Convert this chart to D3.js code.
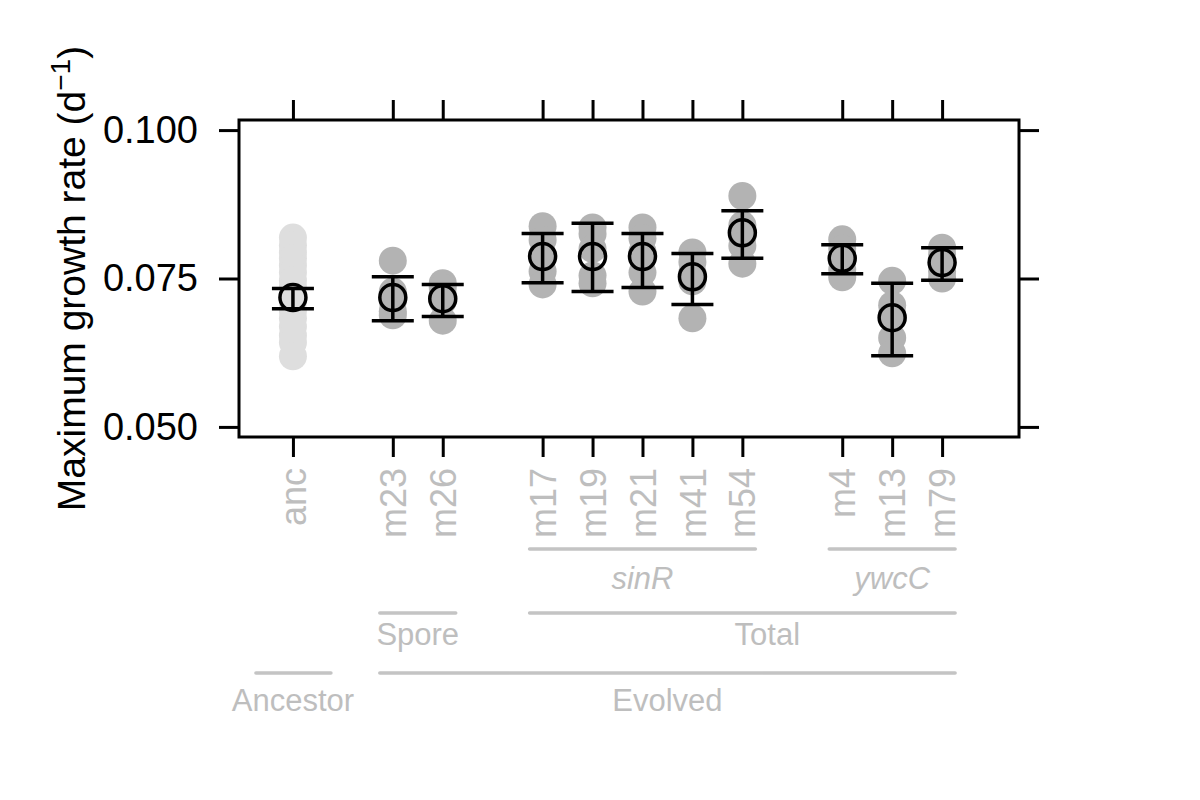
<!DOCTYPE html>
<html lang="en">
<head>
  <meta charset="UTF-8">
  <title>Maximum growth rate</title>
  <style>
    body { margin: 0; background: #fff; }
    svg { font-family: "Liberation Sans", Arial, sans-serif; }
  </style>
</head>
<body>
  <svg id="chart" width="1200" height="800"></svg>

  <script src="https://d3js.org/d3.v7.min.js"></script>
  <script>
    // Strains and where they sit on the x axis (gaps between groups)
    const strains = ['anc', 'm23', 'm26', 'm17', 'm19', 'm21', 'm41', 'm54', 'm4', 'm13', 'm79']
    const slots = [1, 3, 4, 6, 7, 8, 9, 10, 12, 13, 14]

    // Replicate growth rates
    const replicates = [
      [0.0819, 0.0806, 0.0794, 0.0784, 0.0772, 0.0760, 0.0747, 0.0735, 0.0721, 0.0710, 0.0696, 0.0683, 0.0669, 0.0654, 0.0642, 0.0619],
      [0.0780, 0.0728, 0.0712, 0.0695, 0.0688],
      [0.0742, 0.0735, 0.0722, 0.0712, 0.0679],
      [0.0838, 0.0815, 0.0790, 0.0762, 0.0740],
      [0.0836, 0.0825, 0.0800, 0.0755, 0.0742],
      [0.0836, 0.0818, 0.0795, 0.0760, 0.0728],
      [0.0794, 0.0778, 0.0760, 0.0745, 0.0683],
      [0.0889, 0.0840, 0.0820, 0.0805, 0.0775],
      [0.0816, 0.0800, 0.0780, 0.0765, 0.0752],
      [0.0746, 0.0705, 0.0690, 0.0650, 0.0624],
      [0.0802, 0.0790, 0.0775, 0.0762, 0.0750]
    ]

    // Means and interval ends
    const means = [0.0718, 0.0718, 0.0716, 0.0787, 0.0787, 0.0787, 0.0753, 0.0827, 0.0784, 0.0684, 0.0777]
    const lower = [0.0699, 0.0679, 0.0686, 0.0743, 0.0728, 0.0735, 0.0706, 0.0784, 0.0758, 0.0620, 0.0747]
    const upper = [0.0733, 0.0753, 0.0740, 0.0826, 0.0843, 0.0826, 0.0792, 0.0864, 0.0807, 0.0742, 0.0802]

    const yTicks = [0.050, 0.075, 0.100]

    // Grouping brackets under the axis
    const groupLabels = ['sinR', 'ywcC', 'Spore', 'Total', 'Ancestor', 'Evolved']
    const groupFrom = [6, 12, 3, 6, 1, 3]
    const groupTo = [10, 14, 4, 14, 1, 14]
    const groupTextAt = [8, 13, 3.5, 10.5, 1, 8.5]
    const groupRow = [0, 0, 1, 1, 2, 2]
    const groupItalic = [true, true, false, false, false, false]

    const svg = d3.select('#chart')
    const box = { left: 239, right: 1019, top: 120, bottom: 437 }
    const labelGrey = '#bebebe'

    const x = d3.scaleLinear().domain([-0.08, 15.54]).range([box.left, box.right])
    const y = d3.scaleLinear().domain([0.0483, 0.1017]).range([box.bottom, box.top])

    const data = strains.map((s, i) => ({
      strain: s, slot: slots[i], reps: replicates[i],
      mean: means[i], lo: lower[i], hi: upper[i]
    }))

    // Axes (ticks on all four sides, labels only left and bottom)
    const leftAxis = d3.axisLeft(y).tickValues(yTicks).tickFormat(d3.format('.3f'))
      .tickSize(20).tickPadding(21).tickSizeOuter(0)
    const rightAxis = d3.axisRight(y).tickValues(yTicks).tickFormat('')
      .tickSize(20).tickSizeOuter(0)
    const bottomAxis = d3.axisBottom(x).tickValues(slots).tickFormat((d, i) => strains[i])
      .tickSize(20).tickPadding(12).tickSizeOuter(0)
    const topAxis = d3.axisTop(x).tickValues(slots).tickFormat('')
      .tickSize(20).tickSizeOuter(0)

    const gl = svg.append('g').attr('transform', `translate(${box.left},0)`).call(leftAxis)
    const gr = svg.append('g').attr('transform', `translate(${box.right},0)`).call(rightAxis)
    const gb = svg.append('g').attr('transform', `translate(0,${box.bottom})`).call(bottomAxis)
    const gt = svg.append('g').attr('transform', `translate(0,${box.top})`).call(topAxis)

    ;[gl, gr, gb, gt].forEach(g => {
      g.select('.domain').remove()
      g.selectAll('.tick line').attr('stroke', '#000').attr('stroke-width', 3)
    })
    gl.selectAll('.tick text').attr('font-size', 38).attr('fill', '#000')
    gb.selectAll('.tick text')
      .attr('font-size', 36).attr('fill', labelGrey)
      .attr('transform', 'rotate(-90)')
      .attr('text-anchor', 'end')
      .attr('x', -31).attr('y', 0).attr('dy', '0.35em')

    // Replicate points
    const pts = svg.append('g')
    data.forEach(d => {
      pts.selectAll(null)
        .data(d.reps)
        .enter()
        .append('circle')
        .attr('cx', x(d.slot))
        .attr('cy', v => y(v))
        .attr('r', 14)
        .attr('fill', d.strain === 'anc' ? '#dedede' : '#b3b3b3')
    })

    // Error bars and means
    const bars = svg.append('g').attr('stroke', '#000').attr('stroke-width', 3.5)
    bars.selectAll('.stem').data(data).enter().append('line')
      .attr('x1', d => x(d.slot)).attr('x2', d => x(d.slot))
      .attr('y1', d => y(d.lo)).attr('y2', d => y(d.hi))
    bars.selectAll('.capLo').data(data).enter().append('line')
      .attr('x1', d => x(d.slot) - 21).attr('x2', d => x(d.slot) + 21)
      .attr('y1', d => y(d.lo)).attr('y2', d => y(d.lo))
    bars.selectAll('.capHi').data(data).enter().append('line')
      .attr('x1', d => x(d.slot) - 21).attr('x2', d => x(d.slot) + 21)
      .attr('y1', d => y(d.hi)).attr('y2', d => y(d.hi))
    bars.selectAll('circle').data(data).enter().append('circle')
      .attr('cx', d => x(d.slot)).attr('cy', d => y(d.mean))
      .attr('r', 13).attr('fill', 'none')

    // Plot box
    svg.append('rect')
      .attr('x', box.left).attr('y', box.top)
      .attr('width', box.right - box.left).attr('height', box.bottom - box.top)
      .attr('fill', 'none').attr('stroke', '#000').attr('stroke-width', 3)

    // Y title
    const title = svg.append('text')
      .attr('transform', `translate(85,${(box.top + box.bottom) / 2}) rotate(-90)`)
      .attr('text-anchor', 'middle')
      .attr('font-size', 39)
    title.append('tspan').text('Maximum growth rate (d')
    title.append('tspan').text('\u22121').attr('font-size', 28).attr('dy', -15)
    title.append('tspan').text(')').attr('dy', 15)

    // Group brackets
    const rowLine = [549, 613, 673]
    const rowText = [578, 634, 700]
    const brackets = svg.append('g')
    groupLabels.forEach((lab, i) => {
      const single = groupFrom[i] === groupTo[i]
      const xs = single
        ? [x(groupFrom[i]) - 37, x(groupTo[i]) + 38]
        : [x(groupFrom[i]) - 13, x(groupTo[i]) + 13]
      brackets.append('line')
        .attr('x1', xs[0]).attr('x2', xs[1])
        .attr('y1', rowLine[groupRow[i]]).attr('y2', rowLine[groupRow[i]])
        .attr('stroke', '#c4c4c4').attr('stroke-width', 3.5).attr('stroke-linecap', 'round')
      brackets.append('text')
        .attr('x', x(groupTextAt[i]))
        .attr('y', rowText[groupRow[i]])
        .attr('dy', '0.35em')
        .attr('text-anchor', 'middle')
        .attr('font-size', 31)
        .attr('font-style', groupItalic[i] ? 'italic' : 'normal')
        .attr('fill', labelGrey)
        .text(lab)
    })
  </script>
</body>
</html>
